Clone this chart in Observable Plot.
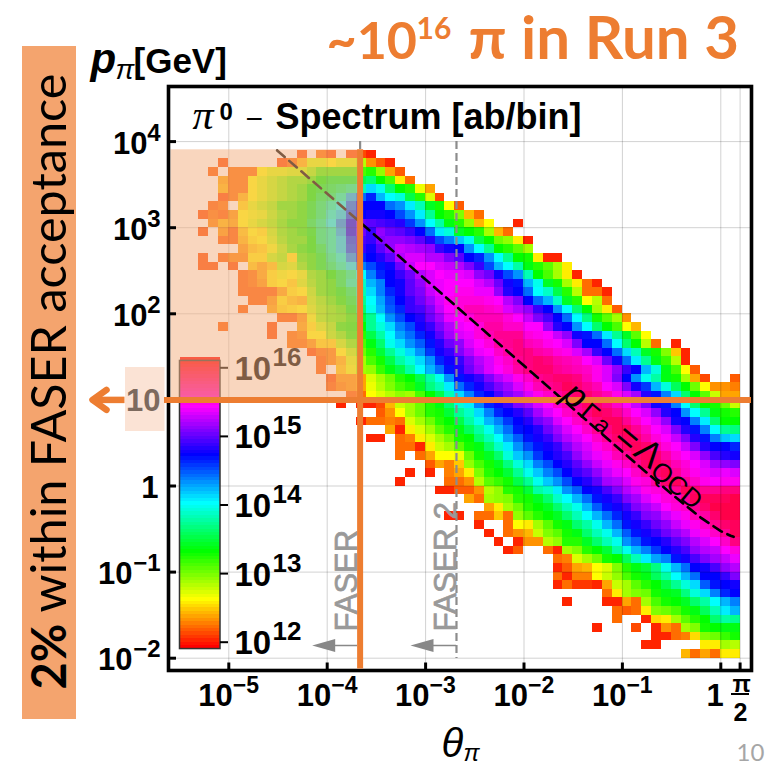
<!DOCTYPE html>
<html><head><meta charset="utf-8">
<script src="https://cdn.jsdelivr.net/npm/d3@7"></script>
<script src="https://cdn.jsdelivr.net/npm/@observablehq/plot@0.6"></script>
<style>html,body{margin:0;padding:0;background:#fff}svg{display:block}</style>
</head><body><div id="chart"></div>
<script>
// Each row: first item = first theta-bin index, then log10(ab/bin) per bin (0 = empty bin)
const row58=[10,12.1,0,12.2,12.1,0,12.1,12.1,12.0];
const row57=[2,12.1,0,0,0,0,0,12.1,12.2,12.4,12.7,12.7,12.6,12.7,12.7,12.8,12.3,12.15,12.0];
const row56=[1,12.15,0,12.2,12.2,12.2,12.6,12.7,12.7,12.75,12.75,12.9,13.1,13.1,13.1,13.1,13.1,13.2,12.9,12.35,12.15];
const row55=[2,12.35,12.2,12.2,12.6,12.7,12.8,12.9,13.0,13.0,13.1,13.3,13.4,13.4,13.4,13.5,13.6,13.3,13.1,12.55,12.2];
const row54=[2,12.4,12.2,12.2,12.6,12.7,12.8,12.9,13.0,13.1,13.3,13.4,13.5,13.6,13.7,13.8,14.1,13.95,13.6,13.3,13.2,12.65,12.35];
const row53=[2,12.1,12.2,12.4,12.6,12.7,12.8,12.9,13.0,13.1,13.3,13.5,13.6,13.8,14.2,14.4,14.6,14.2,14.0,13.9,13.5,13.2,12.7,12.1];
const row52=[1,12.15,12.2,0,12.5,12.7,12.8,12.9,13.1,13.1,13.2,13.4,13.6,13.8,14.0,14.4,14.7,14.7,14.7,14.4,14.3,14.05,13.8,13.4,13.25,12.6,12.15];
const row51=[0,12.1,12.2,12.15,12.3,12.6,12.65,12.7,12.85,13.0,13.1,13.2,13.4,13.6,13.9,14.1,14.5,14.7,14.75,14.75,14.7,14.5,14.3,14.05,13.7,13.3,13.2,12.95,12.4,12.2];
const row50=[1,12.25,12.4,12.35,12.6,12.7,12.8,12.9,13.05,13.2,13.2,13.5,13.7,14.0,14.3,14.7,15.0,14.95,14.9,14.85,14.8,14.55,14.3,14.0,13.75,13.35,13.2,12.9,12.4,12.6,0,0,12.0];
const row49=[0,12.1,0,12.3,12.15,12.45,12.6,12.55,12.8,13.0,13.1,13.2,13.35,13.65,13.8,14.2,14.7,15.0,14.85,15.1,15.0,14.95,14.85,14.7,14.4,14.05,13.9,13.4,13.3,13.2,12.85,12.4,12.2];
const row48=[2,12.15,12.15,12.4,12.55,12.6,12.75,12.95,13.1,13.1,13.3,13.65,13.8,14.1,14.55,14.9,14.85,15.05,15.1,15.1,15.05,14.95,14.8,14.5,14.35,14.15,13.95,13.5,13.3,13.0,12.9,12.55,12.0];
const row47=[4,12.3,12.45,12.5,12.65,12.85,13.05,13.2,13.3,13.5,13.8,14.1,14.5,14.85,14.75,14.95,15.1,15.25,15.2,15.15,15.1,14.85,14.75,14.7,14.3,14.0,13.7,13.3,13.2,13.05,12.85];
const row46=[0,12.1,0,12.15,12.25,12.25,12.55,12.55,12.8,12.9,12.55,13.1,13.2,13.4,13.7,13.9,14.3,14.6,14.7,14.8,14.95,15.2,15.3,15.3,15.2,15.2,15.05,14.95,14.7,14.6,14.3,14.0,13.7,13.3,13.25,12.55,12.0,12.0];
const row45=[0,12.1,12.1,0,12.1,0,12.45,12.35,12.45,12.8,12.75,13.0,13.2,13.4,13.6,13.8,14.05,14.35,14.5,14.65,14.75,15.0,15.25,15.4,15.4,15.3,15.25,15.2,15.05,14.85,14.5,14.2,14.0,13.75,13.35,13.2,13.05,12.85,12.55];
const row44=[4,12.15,12.2,12.35,12.55,12.65,12.6,12.7,13.0,13.1,13.3,13.5,13.7,14.0,14.35,14.6,14.7,14.85,15.0,15.2,15.3,15.4,15.35,15.35,15.3,15.1,15.0,14.75,14.5,14.3,13.8,13.3,13.1,12.85,12.55,12.0];
const row43=[4,12.15,12.2,12.3,12.55,12.6,12.5,12.75,12.95,13.1,13.2,13.5,13.8,13.85,14.2,14.35,14.7,14.75,14.95,15.1,15.3,15.35,15.4,15.4,15.4,15.3,15.2,15.0,14.75,14.65,14.2,13.95,13.4,13.25,12.85,12.55,12.2,12.0];
const row42=[4,12.15,12.15,12.15,12.15,12.35,12.55,12.6,12.85,13.1,13.2,13.35,13.55,13.8,14.1,14.35,14.6,14.75,14.95,15.05,15.25,15.35,15.4,15.45,15.45,15.35,15.35,15.1,14.8,14.7,14.4,14.0,13.85,13.5,13.2,12.8,12.2,12.2,12.0];
const row41=[5,12.15,12.15,12.3,12.55,12.45,12.4,12.8,12.95,13.1,13.25,13.45,13.7,14.0,14.25,14.5,14.7,14.85,15.0,15.15,15.3,15.45,15.5,15.5,15.5,15.45,15.4,15.2,15.05,14.7,14.4,14.2,13.85,13.4,13.2,12.6,12.8,12.2];
const row40=[4,12.15,0,0,12.35,12.5,12.55,12.6,12.75,12.9,13.0,13.1,13.35,13.6,13.95,14.2,14.45,14.6,14.85,14.9,15.05,15.25,15.4,15.5,15.6,15.6,15.55,15.5,15.3,15.2,15.1,14.85,14.7,14.3,14.0,13.6,13.3,12.85,12.55,12.15];
const row39=[8,12.15,12.15,12.3,12.65,12.9,13.0,13.05,13.2,13.45,13.7,14.0,14.3,14.5,14.7,14.8,15.0,15.15,15.35,15.4,15.5,15.6,15.6,15.6,15.5,15.4,15.25,15.05,14.9,14.7,14.4,14.0,13.65,13.25,13.05,12.85,12.3];
const row38=[2,12.15,0,0,0,0,12.1,0,0,12.35,12.55,12.75,12.9,13.2,13.25,13.3,13.7,13.9,14.1,14.35,14.5,14.75,14.85,15.05,15.2,15.35,15.4,15.5,15.65,15.65,15.55,15.55,15.4,15.4,15.1,14.8,14.7,14.3,14.0,13.6,13.3,13.1,12.6,12.4];
const row37=[7,12.1,0,12.2,12.25,12.6,12.6,12.85,13.0,13.2,13.2,13.5,13.75,14.0,14.25,14.4,14.6,14.75,14.95,15.15,15.3,15.35,15.5,15.6,15.7,15.7,15.7,15.5,15.45,15.4,15.25,15.1,14.75,14.65,14.4,14.05,13.7,13.4,13.05,12.6];
const row36=[9,12.2,12.2,12.3,12.5,12.5,12.8,13.0,13.1,13.35,13.6,13.95,14.1,14.3,14.45,14.65,14.8,15.0,15.1,15.3,15.4,15.5,15.65,15.7,15.75,15.6,15.55,15.45,15.4,15.3,15.05,14.7,14.7,14.4,14.0,13.6,13.3,12.8,12.2,0,12.0];
const row35=[11,12.1,12.2,12.25,12.6,12.8,13.0,13.2,13.45,13.7,13.9,14.1,14.3,14.55,14.75,14.85,15.05,15.2,15.35,15.4,15.55,15.65,15.75,15.75,15.65,15.6,15.5,15.45,15.3,15.15,14.85,14.7,14.4,14.1,13.8,13.4,13.25,12.95,12.45,12.0];
const row34=[12,12.15,12.25,12.4,12.7,12.85,13.1,13.25,13.5,13.75,13.9,14.1,14.3,14.6,14.75,14.85,15.05,15.2,15.3,15.45,15.55,15.7,15.75,15.8,15.75,15.65,15.6,15.55,15.4,15.3,15.0,14.75,14.4,14.05,13.7,13.35,13.15,12.8,12.0];
const row33=[12,12.15,0,12.45,12.65,12.85,12.9,13.15,13.35,13.5,13.75,14.0,14.2,14.4,14.65,14.8,15.0,15.15,15.3,15.4,15.5,15.65,15.75,15.8,15.8,15.7,15.65,15.6,15.55,15.45,15.3,15.1,14.85,14.7,14.2,13.9,13.35,13.1,12.6,12.15];
const row32=[13,12.1,12.3,12.3,12.35,12.7,12.85,13.0,13.2,13.3,13.5,13.75,13.95,14.3,14.65,14.75,14.85,15.05,15.2,15.3,15.45,15.55,15.7,15.75,15.8,15.8,15.75,15.6,15.45,15.3,15.05,14.7,14.3,13.95,13.75,13.35,13.25,12.85,12.35,12.1,0,0,12.15];
const row31=[13,12.15,12.25,12.3,12.35,12.65,12.8,12.95,13.1,13.2,13.4,13.65,13.8,14.05,14.4,14.6,14.75,14.9,15.05,15.15,15.3,15.45,15.6,15.7,15.75,15.85,15.8,15.7,15.6,15.4,15.3,15.05,14.75,14.55,14.2,13.9,13.55,13.3,13.0,12.6,12.3,12.3,12.25];
const row30=[15,12.15,12.2,12.6,12.7,12.8,12.9,12.85,13.1,13.3,13.5,13.8,14.1,14.35,14.6,14.7,14.9,15.05,15.15,15.3,15.45,15.55,15.65,15.75,15.8,15.8,15.7,15.6,15.45,15.3,15.15,14.8,14.65,14.35,14.1,13.6,13.3,13.05,12.75,12.35,12.35];
const row29=[14,12.0,0,12.0,12.0,12.1,12.4,12.75,12.85,13.0,13.2,13.35,13.6,13.9,14.05,14.35,14.6,14.75,14.85,15.05,15.15,15.3,15.4,15.55,15.65,15.7,15.8,15.8,15.7,15.55,15.4,15.25,15.05,14.75,14.65,14.35,14.0,13.6,13.3,13.25,13.0,12.75];
const row28=[18,12.15,12.3,12.6,12.85,13.0,13.2,13.25,13.45,13.7,13.85,14.1,14.35,14.6,14.7,14.8,14.95,15.15,15.3,15.4,15.55,15.65,15.75,15.85,15.8,15.7,15.55,15.4,15.3,15.1,14.8,14.7,14.3,14.0,13.7,13.35,13.25,13.2];
const row27=[16,12.0,12.2,12.2,12.25,12.2,12.7,12.85,13.0,13.2,13.3,13.5,13.75,13.95,14.2,14.35,14.55,14.7,14.8,15.0,15.1,15.3,15.4,15.55,15.65,15.75,15.85,15.85,15.7,15.55,15.4,15.3,15.1,14.75,14.7,14.35,14.05,13.6,13.3,13.3];
const row26=[19,12.35,12.0,12.55,12.7,12.85,13.05,13.2,13.35,13.55,13.75,13.95,14.2,14.4,14.65,14.7,14.8,15.0,15.15,15.3,15.4,15.55,15.7,15.75,15.85,15.85,15.7,15.55,15.4,15.3,15.05,14.8,14.65,14.35,14.0,13.7,13.65];
const row25=[17,12.0,12.0,0,12.2,12.25,12.55,12.7,12.85,13.0,13.25,13.3,13.6,13.8,14.0,14.25,14.45,14.65,14.75,14.85,15.05,15.2,15.3,15.4,15.55,15.7,15.8,15.85,15.8,15.65,15.5,15.4,15.25,15.05,14.8,14.65,14.35,14.15,14.1];
const row24=[20,12.2,12.2,12.0,12.55,12.75,12.85,13.05,13.25,13.35,13.6,13.85,14.05,14.3,14.5,14.65,14.75,14.85,15.05,15.2,15.3,15.45,15.55,15.7,15.8,15.85,15.8,15.65,15.5,15.4,15.25,15.05,14.8,14.7,14.7,14.6];
const row23=[20,12.2,0,12.2,12.35,12.6,12.6,12.65,13.0,13.25,13.4,13.6,13.9,14.15,14.3,14.55,14.7,14.8,14.9,15.1,15.25,15.35,15.45,15.6,15.7,15.8,15.85,15.8,15.65,15.5,15.4,15.3,15.1,14.9,14.8,14.75];
const row22=[23,12.15,12.35,12.25,12.45,12.9,13.1,13.25,13.4,13.65,13.9,14.1,14.35,14.5,14.7,14.8,14.95,15.1,15.25,15.35,15.45,15.55,15.7,15.8,15.85,15.75,15.6,15.5,15.4,15.3,15.15,15.1,15.05];
const row21=[21,12.0,0,12.0,0,12.25,12.35,12.55,12.95,13.2,13.3,13.45,13.7,13.95,14.15,14.35,14.5,14.7,14.85,14.95,15.1,15.25,15.35,15.4,15.55,15.7,15.8,15.85,15.7,15.55,15.45,15.35,15.3,15.35,15.3];
const row20=[20,12.0,0,0,0,0,12.2,12.2,12.3,12.8,13.05,13.15,13.25,13.5,13.7,13.95,14.15,14.3,14.5,14.7,14.8,14.95,15.15,15.2,15.3,15.45,15.5,15.65,15.8,15.85,15.7,15.55,15.45,15.4,15.45,15.45];
const row19=[24,12.0,12.0,12.15,12.15,12.3,12.8,12.9,13.2,13.25,13.45,13.75,13.85,14.05,14.3,14.45,14.7,14.75,14.9,15.05,15.2,15.3,15.45,15.5,15.55,15.7,15.85,15.8,15.7,15.7,15.75,15.75];
const row18=[27,12.35,12.2,12.85,12.9,12.95,13.2,13.25,13.4,13.6,13.85,14.0,14.2,14.4,14.65,14.75,14.85,15.05,15.15,15.3,15.4,15.5,15.55,15.7,15.85,15.85,15.85,15.85,15.9];
const row17=[29,12.35,12.55,12.85,13.0,13.2,13.3,13.4,13.6,13.8,13.95,14.2,14.45,14.65,14.75,14.85,15.05,15.15,15.25,15.4,15.5,15.55,15.7,15.8,15.9,15.9,15.9];
const row16=[25,12.0,12.0,0,12.2,12.2,12.45,12.2,12.9,13.05,13.2,13.3,13.4,13.6,13.8,14.0,14.2,14.4,14.6,14.75,14.85,15.05,15.1,15.25,15.35,15.45,15.6,15.65,15.8,15.9,15.9];
const row15=[28,12.0,0,0,12.2,12.6,12.55,12.85,13.05,13.25,13.35,13.6,13.75,13.95,14.2,14.4,14.65,14.75,14.85,15.0,15.1,15.25,15.35,15.45,15.55,15.7,15.8,15.85];
const row14=[29,12.0,0,12.2,12.3,12.4,12.75,12.95,13.05,13.25,13.35,13.6,13.8,13.95,14.2,14.45,14.65,14.75,14.85,15.0,15.1,15.2,15.35,15.45,15.55,15.7,15.85];
const row13=[30,12.0,0,12.0,12.3,12.3,12.8,12.9,13.2,13.2,13.4,13.6,13.8,13.95,14.3,14.45,14.65,14.7,14.8,14.95,15.05,15.2,15.3,15.4,15.55,15.75];
const row12=[31,12.0,12.15,0,0,12.2,12.0,12.85,12.95,13.2,13.3,13.45,13.75,13.95,14.2,14.35,14.55,14.7,14.8,14.9,15.1,15.2,15.25,15.4,15.5];
const row11=[36,12.2,12.25,12.7,12.85,13.0,13.25,13.3,13.55,13.8,14.05,14.25,14.35,14.65,14.75,14.9,15.05,15.15,15.25,15.35];
const row10=[36,12.0,12.15,12.35,12.4,12.6,12.7,12.95,13.2,13.35,13.45,13.65,13.95,14.2,14.4,14.7,14.75,14.9,15.1,15.2];
const row9=[36,12.2,12.0,12.25,12.25,12.6,12.75,12.9,13.1,13.25,13.35,13.55,13.75,14.0,14.2,14.4,14.7,14.7,14.85,15.05];
const row8=[36,12.0,12.2,12.05,12.05,12.0,12.35,12.75,12.85,13.05,13.2,13.3,13.5,13.7,13.9,14.1,14.45,14.65,14.7,14.75];
const row7=[41,12.2,12.55,12.85,12.95,13.0,13.25,13.35,13.4,13.65,13.9,14.1,14.35,14.6,14.7];
const row6=[37,12.0,0,0,0,12.0,12.0,12.35,12.2,12.85,13.1,13.25,13.3,13.4,13.6,13.75,14.0,14.2,14.35];
const row5=[42,12.2,12.15,12.2,12.55,12.95,13.0,13.1,13.25,13.35,13.55,13.8,14.05,14.2];
const row4=[42,12.2,0,0,12.0,12.5,12.55,12.85,13.05,13.2,13.3,13.6,13.75,13.7];
const row3=[40,12.0,0,0,0,12.1,0,12.0,12.3,12.2,12.85,12.95,13.25,13.3,13.35,13.35];
const row2=[46,12.0,12.0,12.2,12.25,12.5,12.95,13.0,13.15,13.25];
const row1=[45,12.0,12.0,0,0,0,0,12.55,12.55,12.85,12.8];
const row0=[49,12.4,12.2,12.35,12.2,12.55,12.55];
const rows=[row0,row1,row2,row3,row4,row5,row6,row7,row8,row9,row10,row11,row12,row13,row14,row15,row16,row17,row18,row19,row20,row21,row22,row23,row24,row25,row26,row27,row28,row29,row30,row31,row32,row33,row34,row35,row36,row37,row38,row39,row40,row41,row42,row43,row44,row45,row46,row47,row48,row49,row50,row51,row52,row53,row54,row55,row56,row57,row58];

const xTickExps=[-5,-4,-3,-2,-1];
const yPosExps=[2,3,4];
const yNegExps=[-2,-1];
const gridTheta=[1e-5,1e-4,1e-3,1e-2,1e-1,1,Math.PI/2];
const gridP=[1e-2,1e-1,1,10,100,1000,10000];
const colorTicks=[12,13,14,15,16];
const dashTheta=[3.1e-5,2.34e-4,2e-3,1.58e-2,0.1,0.316,0.631,1,1.259,1.35];
const dashP=[7900,1070,125,15.8,2.5,0.807,0.426,0.299,0.264,0.257];
const faserTheta=2.16e-4, faser2Theta=2.06e-3, faserP=10;

const ML=168,MR=18,MT=86,MB=97;
const tx=px=>10**(-4+(px-326.7)/98.4);
const py=p=>10**(-2+(657.7-p)/86.1);
const legP=v=>py(641.7-(v-12)*68.6);

const cells=[];
rows.forEach((r,j)=>{r.slice(1).forEach((v,k)=>{ if(v){const c=r[0]+k;
  cells.push({x1:10**(0.196-(55-c)*0.1),x2:10**(0.196-(54-c)*0.1),y1:10**(-2+j*0.1),y2:10**(-2+(j+1)*0.1),v});}});});
const levels=d3.range(11.9,16.1,0.05);

const sans="Liberation Sans",lato="Lato",serif="Liberation Serif";
const lbl=(s,px,pyy,o={})=>Plot.text([s],{text:d=>d,frameAnchor:"top-left",dx:px-ML,dy:pyy-MT,lineAnchor:"bottom",textAnchor:"start",fontFamily:sans,fill:"#000",...o});
const one=[0];
const gray="#999999",orange="#ed7d31";
const tri={draw(c){c.moveTo(-12,0);c.lineTo(11,-6.5);c.lineTo(11,6.5);c.closePath();}};
const chev={draw(c){c.moveTo(14,-10);c.lineTo(0,0);c.lineTo(14,10);}};

const chart=Plot.plot({
  width:769,height:767,marginLeft:ML,marginRight:MR,marginTop:MT,marginBottom:MB,
  style:{background:"#fff",fontFamily:sans},
  x:{type:"log",domain:[tx(ML),tx(769-MR)],axis:null},
  y:{type:"log",domain:[py(767-MB),py(MT)],axis:null},
  color:{type:"linear",domain:[11.9,16.1],interpolate:t=>d3.hsl(t*360,1,0.5).formatHex(),clamp:true},
  marks:[
    // left banner
    Plot.rect(one,{x1:tx(22),x2:tx(76),y1:py(719),y2:py(46),fill:"#f4a46e"}),
    lbl("2%",65,689,{rotate:-90,fontFamily:lato,fontWeight:"bold",fontSize:47}),
    lbl("within FASER acceptance",65,612,{rotate:-90,fontFamily:lato,fontSize:48.5}),
    // heat map
    Plot.rect(cells,{x1:"x1",x2:"x2",y1:"y1",y2:"y2",fill:"v",shapeRendering:"crispEdges"}),
    // grid
    Plot.ruleX(gridTheta,{stroke:"#000",strokeOpacity:0.18,strokeWidth:1}),
    Plot.ruleY(gridP,{stroke:"#000",strokeOpacity:0.18,strokeWidth:1}),
    // detector lines
    Plot.ruleX([faserTheta,faser2Theta],{y1:py(141),y2:py(658),stroke:"#8c8c8c",strokeWidth:2.2,strokeDasharray:"8,4"}),
    // pT line
    Plot.line(dashTheta.map((t,i)=>[t,dashP[i]]),{x:"0",y:"1",stroke:"#000",strokeWidth:2.6,strokeDasharray:"10,6"}),
    // colour bar
    Plot.rect(levels,{x1:tx(179.5),x2:tx(220),y1:v=>legP(v),y2:v=>legP(v+0.05),fill:v=>v,shapeRendering:"crispEdges"}),
    Plot.rect(one,{x1:tx(179.5),x2:tx(220),y1:legP(11.9),y2:legP(16.1),fill:"none",stroke:"#333",strokeWidth:1.5}),
    Plot.ruleY(colorTicks,{y:legP,x1:tx(220),x2:tx(228),stroke:"#000",strokeWidth:2}),
    Plot.text(colorTicks,{x:tx(234),y:legP,text:()=>"10",textAnchor:"start",lineAnchor:"bottom",dy:12,fontSize:33,fontWeight:"bold",fill:"#000"}),
    Plot.text(colorTicks,{x:tx(272),y:legP,text:v=>String(v),textAnchor:"start",lineAnchor:"bottom",dy:-2,fontSize:26,fontWeight:"bold",fill:"#000"}),
    // y label at 10, on pale box
    Plot.rect(one,{x1:tx(125),x2:tx(164.5),y1:py(431),y2:py(367),fill:"#fbe3d5"}),
    Plot.text([10],{y:d=>d,frameAnchor:"left",dx:-8,text:()=>"10",textAnchor:"end",lineAnchor:"bottom",dy:11,fontSize:31,fontWeight:"bold",fill:"#7d6a5e"}),
    // pale FASER acceptance overlay
    Plot.rect(one,{x1:tx(170.5),x2:tx(360),y1:py(399),y2:py(149.3),fill:"#f4b183",fillOpacity:0.52}),
    // frame and ticks
    Plot.ruleX(gridTheta,{y1:py(670),y2:py(662.5),stroke:"#000",strokeWidth:3}),
    Plot.ruleY(gridP,{x1:tx(168),x2:tx(176),stroke:"#000",strokeWidth:3}),
    Plot.frame({stroke:"#000",strokeWidth:3.6}),
    // gray arrows and labels
    Plot.ruleY([0],{y:py(645),x1:tx(320),x2:tx(357),stroke:"#888",strokeWidth:1.5}),
    Plot.ruleY([0],{y:py(645),x1:tx(418),x2:tx(456),stroke:"#888",strokeWidth:1.5}),
    Plot.dot([tx(323.7),tx(422)],{x:d=>d,y:py(645),symbol:tri,r:1,fill:"#888",stroke:"none"}),
    lbl("FASER",356,631,{rotate:-90,fontSize:31,fill:gray,stroke:gray,strokeWidth:0.7}),
    lbl("FASER 2",455,631,{rotate:-90,fontSize:31.5,fill:gray,stroke:gray,strokeWidth:0.7}),
    // orange guide lines
    Plot.ruleX([faserTheta],{y1:py(149.3),y2:py(668.5),stroke:orange,strokeWidth:6}),
    Plot.ruleY([faserP],{x1:tx(164),x2:tx(751),stroke:orange,strokeWidth:6}),
    Plot.ruleY([faserP],{x1:tx(96),x2:tx(124.5),stroke:orange,strokeWidth:6.5}),
    Plot.dot([tx(92)],{x:d=>d,y:faserP,symbol:chev,r:1,fill:"none",stroke:orange,strokeWidth:6.5,strokeLinejoin:"round",strokeLinecap:"round"}),
    // tick labels
    Plot.text(xTickExps,{x:d=>10**d,frameAnchor:"bottom",dy:35,dx:4,text:()=>"10",textAnchor:"end",lineAnchor:"bottom",fontSize:31,fontWeight:"bold",fill:"#000"}),
    Plot.text(xTickExps,{x:d=>10**d,frameAnchor:"bottom",dy:22,dx:4,text:d=>"\u2212"+Math.abs(d),textAnchor:"start",lineAnchor:"bottom",fontSize:23,fontWeight:"bold",fill:"#000"}),
    Plot.text([1],{x:d=>d,frameAnchor:"bottom",dy:35,dx:3,text:()=>"1",textAnchor:"end",lineAnchor:"bottom",fontSize:31,fontWeight:"bold",fill:"#000"}),
    lbl("\u03c0",732,691,{fontSize:24,fontWeight:"bold"}),
    Plot.ruleY([0],{y:py(693.5),x1:tx(731),x2:tx(749),stroke:"#000",strokeWidth:2}),
    lbl("2",733,720,{fontSize:25,fontWeight:"bold"}),
    Plot.text(yPosExps,{y:d=>10**d,frameAnchor:"left",dx:-21,dy:12,text:()=>"10",textAnchor:"end",lineAnchor:"bottom",fontSize:31,fontWeight:"bold",fill:"#000"}),
    Plot.text(yPosExps,{y:d=>10**d,frameAnchor:"left",dx:-8,dy:-1,text:d=>String(d),textAnchor:"end",lineAnchor:"bottom",fontSize:24,fontWeight:"bold",fill:"#000"}),
    Plot.text(yNegExps,{y:d=>10**d,frameAnchor:"left",dx:-36,dy:12,text:()=>"10",textAnchor:"end",lineAnchor:"bottom",fontSize:31,fontWeight:"bold",fill:"#000"}),
    Plot.text(yNegExps,{y:d=>10**d,frameAnchor:"left",dx:-8,dy:-1,text:d=>"\u2212"+Math.abs(d),textAnchor:"end",lineAnchor:"bottom",fontSize:24,fontWeight:"bold",fill:"#000"}),
    Plot.text([1],{y:d=>d,frameAnchor:"left",dx:-10,dy:12,text:()=>"1",textAnchor:"end",lineAnchor:"bottom",fontSize:31,fontWeight:"bold",fill:"#000"}),
    // titles
    lbl("~10",326,58,{fontFamily:lato,fontWeight:"bold",fontSize:52,fill:orange}),
    lbl("16",416,38,{fontFamily:lato,fontWeight:"bold",fontSize:30,fill:orange}),
    lbl("\u03c0 in Run 3",468,58,{fontFamily:lato,fontWeight:"bold",fontSize:60,fill:orange}),
    lbl("p",90,72,{fontWeight:"bold",fontStyle:"italic",fontSize:42}),
    lbl("\u03c0",115,78,{fontStyle:"italic",fontFamily:sans,fontSize:28}),
    lbl("[GeV]",133,72,{fontWeight:"bold",fontSize:35}),
    lbl("\u03c0",192,128,{fontStyle:"italic",fontFamily:serif,fontSize:42}),
    lbl("0",219,119,{fontWeight:"bold",fontSize:24}),
    lbl("\u2212",245,128,{fontSize:30}),
    lbl("Spectrum [ab/bin]",275,128,{fontWeight:"bold",fontSize:36}),
    // pT annotation
    lbl("p",575,395,{rotate:40,fontSize:36,fontStyle:"italic",textAnchor:"middle",lineAnchor:"middle"}),
    lbl("\u0393",589,413,{rotate:40,fontSize:27,textAnchor:"middle",lineAnchor:"middle"}),
    lbl("a",602,425,{rotate:40,fontSize:24,textAnchor:"middle",lineAnchor:"middle"}),
    lbl("=",627,438,{rotate:40,fontSize:36,textAnchor:"middle",lineAnchor:"middle"}),
    lbl("\u039b",648,453,{rotate:40,fontSize:36,textAnchor:"middle",lineAnchor:"middle"}),
    lbl("QCD",676,485,{rotate:40,fontSize:26,textAnchor:"middle",lineAnchor:"middle"}),
    // x label and slide number
    lbl("\u03b8",441,756,{fontFamily:sans,fontStyle:"italic",fontSize:40}),
    lbl("\u03c0",463,760,{fontFamily:sans,fontStyle:"italic",fontSize:24}),
    lbl("10",736,760,{fontFamily:lato,fontSize:24,fill:"#a6a6a6"})
  ]
});
document.getElementById("chart").append(chart);
</script></body></html>
